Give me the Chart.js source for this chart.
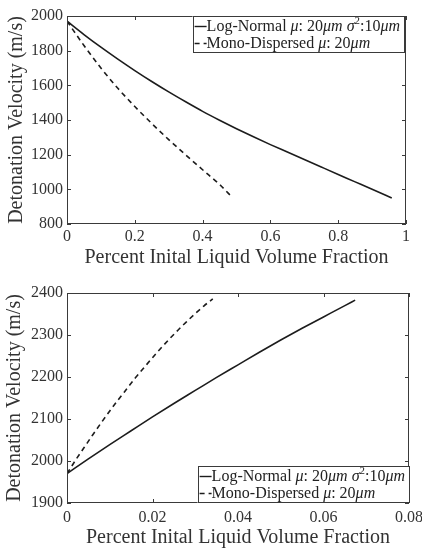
<!DOCTYPE html>
<html>
<head>
<meta charset="utf-8">
<script src="https://cdn.jsdelivr.net/npm/chart.js@4.4.0/dist/chart.umd.min.js"></script>
<style>
  html, body { margin: 0; padding: 0; background: #fff; }
  canvas { display: block; }
</style>
</head>
<body>
<canvas id="topChart" width="422" height="270"></canvas>
<canvas id="bottomChart" width="422" height="278"></canvas>
<script>
// labels
const seriesNames = ['Log-Normal μ: 20μm σ²:10μm', 'Mono-Dispersed μ: 20μm'];
const axisTitleX = 'Percent Inital Liquid Volume Fraction';
const axisTitleY = 'Detonation Velocity (m/s)';

// top panel
const topLogNormalX = [0, 0.05, 0.1, 0.15, 0.2, 0.25, 0.3, 0.35, 0.4, 0.45, 0.5, 0.55, 0.6, 0.65, 0.7, 0.75, 0.8, 0.85, 0.9, 0.958];
const topLogNormalY = [1970, 1893, 1820, 1751, 1685, 1622, 1562, 1505, 1450, 1399, 1350, 1303, 1258, 1215, 1172, 1129, 1086, 1043, 1000, 950];
const topMonoX = [0, 0.05, 0.1, 0.15, 0.2, 0.25, 0.3, 0.35, 0.4, 0.45, 0.487];
const topMonoY = [1970, 1830, 1700, 1583, 1478, 1380, 1287, 1199, 1113, 1028, 955];
const topTicksX = [0, 0.2, 0.4, 0.6, 0.8, 1];
const topTicksY = [800, 1000, 1200, 1400, 1600, 1800, 2000];

// bottom panel
const botLogNormalX = [0, 0.005, 0.01, 0.015, 0.02, 0.025, 0.03, 0.035, 0.04, 0.045, 0.05, 0.055, 0.06, 0.065, 0.0674];
const botLogNormalY = [1970, 2005, 2039, 2072, 2105, 2137, 2168, 2199, 2229, 2259, 2288, 2316, 2343, 2370, 2383];
const botMonoX = [0, 0.002, 0.004, 0.006, 0.008, 0.01, 0.012, 0.014, 0.016, 0.018, 0.02, 0.022, 0.024, 0.026, 0.028, 0.03, 0.032, 0.0341];
const botMonoY = [1970, 2002, 2032, 2062, 2091, 2119, 2146, 2172, 2198, 2222, 2246, 2269, 2291, 2312, 2332, 2351, 2369, 2386];
const botTicksX = [0, 0.02, 0.04, 0.06, 0.08];
const botTicksY = [1900, 2000, 2100, 2200, 2300, 2400];

const FONT = '"Liberation Serif", "DejaVu Serif", serif';
const INK = '#1c1c1c';
const AXIS = '#3a3a3a';
const TEXT = '#333';

// italic math symbols and a superscript 2, drawn piece by piece
function richText(ctx, str, x, y, size, draw) {
    let prev = '';
    for (const ch of str) {
        const italic = ch === 'μ' || ch === 'σ' || (ch === 'm' && prev === 'μ');
        const sup = ch === '²';
        const s = sup ? '2' : ch;
        const fs = sup ? size * 0.68 : size;
        ctx.font = (italic ? 'italic ' : '') + fs + 'px ' + FONT;
        if (draw) ctx.fillText(s, x, sup ? y - size * 0.36 : y);
        x += ctx.measureText(s).width;
        prev = ch;
    }
    return x;
}

const framePlugin = {
    id: 'frame',
    afterDatasetsDraw(chart) {
        const { ctx, chartArea: a, scales: { x, y } } = chart;
        const len = 4;
        ctx.save();
        ctx.strokeStyle = AXIS;
        ctx.lineWidth = 1;
        ctx.strokeRect(Math.round(a.left) + 0.5, Math.round(a.top) + 0.5,
            Math.round(a.right - a.left) - 1, Math.round(a.bottom - a.top) - 1);
        ctx.beginPath();
        x.ticks.forEach(t => {
            const px = Math.round(x.getPixelForValue(t.value)) + 0.5;
            ctx.moveTo(px, a.bottom); ctx.lineTo(px, a.bottom - len);
            ctx.moveTo(px, a.top); ctx.lineTo(px, a.top + len);
        });
        y.ticks.forEach(t => {
            const py = Math.round(y.getPixelForValue(t.value)) + 0.5;
            ctx.moveTo(a.left, py); ctx.lineTo(a.left + len, py);
            ctx.moveTo(a.right, py); ctx.lineTo(a.right - len, py);
        });
        ctx.stroke();
        ctx.restore();
    }
};

const boxLegendPlugin = {
    id: 'boxLegend',
    afterDraw(chart, args, opts) {
        const { ctx, chartArea: a } = chart;
        const size = opts.size || 14;
        const rowH = 17;
        ctx.save();
        ctx.textBaseline = 'middle';
        let textW = 0;
        chart.data.datasets.forEach(ds => {
            textW = Math.max(textW, richText(ctx, ds.label, 0, 0, size, false));
        });
        const w = 15 + textW + 3;
        const h = rowH * chart.data.datasets.length + 3;
        const right = a.right - (opts.inset || 0);
        const left = right - w;
        const top = opts.corner === 'top' ? a.top : a.bottom - h;
        ctx.fillStyle = '#fff';
        ctx.fillRect(left, top, w, h);
        ctx.strokeStyle = AXIS;
        ctx.lineWidth = 1;
        ctx.strokeRect(Math.round(left) + 0.5, Math.round(top) + 0.5, Math.round(w), Math.round(h) - 1);
        chart.data.datasets.forEach((ds, i) => {
            const cy = top + 10.5 + i * rowH;
            ctx.strokeStyle = ds.borderColor;
            ctx.lineWidth = 1.4;
            ctx.setLineDash(ds.borderDash || []);
            ctx.beginPath();
            ctx.moveTo(left + 2, cy);
            ctx.lineTo(left + 14, cy);
            ctx.stroke();
            ctx.setLineDash([]);
            ctx.fillStyle = '#222';
            richText(ctx, ds.label, left + 14, cy, size, true);
        });
        ctx.restore();
    }
};

function makeSeries(label, xs, ys, dash) {
    return {
        label: label,
        data: xs.map((x, i) => ({ x: x, y: ys[i] })),
        borderColor: INK,
        borderWidth: 1.6,
        borderDash: dash,
        pointRadius: 0,
        fill: false,
        cubicInterpolationMode: 'monotone'
    };
}

function makeChart(id, cfg) {
    const ctx = document.getElementById(id).getContext('2d');
    return new Chart(ctx, {
        type: 'line',
        data: {
            datasets: [
                makeSeries(seriesNames[0], cfg.lnX, cfg.lnY, []),
                makeSeries(seriesNames[1], cfg.monoX, cfg.monoY, [5, 4])
            ]
        },
        options: {
            responsive: false,
            animation: false,
            layout: { padding: { left: 0, top: cfg.padTop, right: cfg.padRight, bottom: 0 } },
            plugins: {
                legend: { display: false },
                tooltip: { enabled: false },
                boxLegend: { corner: cfg.legendCorner, inset: cfg.legendInset, size: 16 }
            },
            scales: {
                x: {
                    type: 'linear',
                    min: cfg.ticksX[0],
                    max: cfg.ticksX[cfg.ticksX.length - 1],
                    afterBuildTicks: s => { s.ticks = cfg.ticksX.map(v => ({ value: v })); },
                    afterFit: s => { s.height = cfg.xAxisH; s.paddingLeft = 0; s.paddingRight = 0; },
                    grid: { display: false, drawTicks: false },
                    border: { display: false },
                    ticks: {
                        autoSkip: false, maxRotation: 0, padding: cfg.xTickPad, color: TEXT,
                        font: { family: FONT, size: 16 },
                        callback: v => String(v)
                    },
                    title: {
                        display: true, text: axisTitleX, color: TEXT,
                        font: { family: FONT, size: 20, lineHeight: 1 },
                        padding: { top: 0, bottom: cfg.xTitlePad }
                    }
                },
                y: {
                    type: 'linear',
                    min: cfg.ticksY[0],
                    max: cfg.ticksY[cfg.ticksY.length - 1],
                    afterBuildTicks: s => { s.ticks = cfg.ticksY.map(v => ({ value: v })); },
                    afterFit: s => { s.width = 67; s.paddingTop = 0; s.paddingBottom = 0; },
                    grid: { display: false, drawTicks: false },
                    border: { display: false },
                    ticks: {
                        autoSkip: false, padding: 4, color: TEXT,
                        font: { family: FONT, size: 16 },
                        callback: v => String(v)
                    },
                    title: {
                        display: true, text: axisTitleY, color: TEXT,
                        font: { family: FONT, size: 20, lineHeight: 1 },
                        padding: { top: cfg.yTitlePad, bottom: 0 }
                    }
                }
            }
        },
        plugins: [framePlugin, boxLegendPlugin]
    });
}

makeChart('topChart', {
    lnX: topLogNormalX, lnY: topLogNormalY, monoX: topMonoX, monoY: topMonoY,
    ticksX: topTicksX, ticksY: topTicksY,
    padTop: 16, padRight: 16, xAxisH: 46, xTickPad: 3, xTitlePad: 2, yTitlePad: 6.5,
    legendCorner: 'top', legendInset: 2
});

makeChart('bottomChart', {
    lnX: botLogNormalX, lnY: botLogNormalY, monoX: botMonoX, monoY: botMonoY,
    ticksX: botTicksX, ticksY: botTicksY,
    padTop: 23, padRight: 13, xAxisH: 45, xTickPad: 5, xTitlePad: 0, yTitlePad: 5,
    legendCorner: 'bottom', legendInset: 0
});
</script>
</body>
</html>
